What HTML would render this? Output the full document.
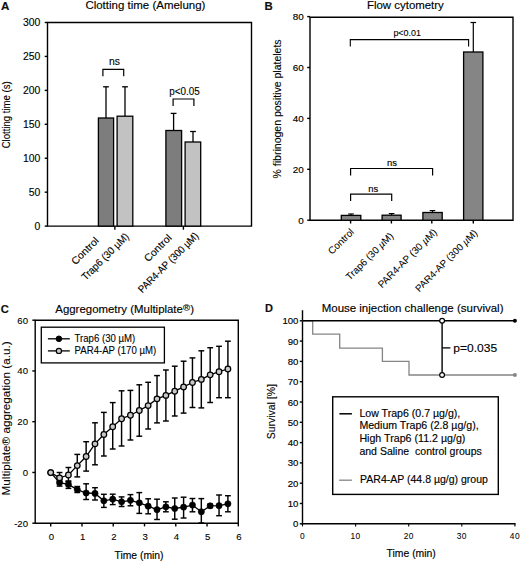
<!DOCTYPE html>
<html><head><meta charset="utf-8"><title>figure</title><style>
html,body{margin:0;padding:0;background:#fff;overflow:hidden;}
svg{display:block;}
text{font-family:"Liberation Sans",sans-serif;stroke:#000;stroke-width:0.15px;}
</style></head><body>
<svg width="520" height="562" viewBox="0 0 520 562">
<rect x="0" y="0" width="520" height="562" fill="#fff"/>
<text x="0.90" y="9.70" font-size="11.6" font-weight="bold" fill="#111">A</text>
<text x="85.40" y="9.20" font-size="11.7" textLength="120.00" lengthAdjust="spacingAndGlyphs" fill="#000">Clotting time (Amelung)</text>
<polygon points="47.5,22.5 47.5,226.1 251.5,226.1 251.5,22.5" stroke="#000" stroke-width="1.4" fill="none"/>
<line x1="44.70" y1="226.10" x2="47.50" y2="226.10" stroke="#000" stroke-width="1.4"/>
<text x="40.40" y="229.90" font-size="10.4" text-anchor="end" fill="#000" style="stroke-width:0.12px">0</text>
<line x1="44.70" y1="192.17" x2="47.50" y2="192.17" stroke="#000" stroke-width="1.4"/>
<text x="40.40" y="195.97" font-size="10.4" text-anchor="end" fill="#000" style="stroke-width:0.12px">50</text>
<line x1="44.70" y1="158.23" x2="47.50" y2="158.23" stroke="#000" stroke-width="1.4"/>
<text x="40.40" y="162.03" font-size="10.4" text-anchor="end" fill="#000" style="stroke-width:0.12px">100</text>
<line x1="44.70" y1="124.30" x2="47.50" y2="124.30" stroke="#000" stroke-width="1.4"/>
<text x="40.40" y="128.10" font-size="10.4" text-anchor="end" fill="#000" style="stroke-width:0.12px">150</text>
<line x1="44.70" y1="90.37" x2="47.50" y2="90.37" stroke="#000" stroke-width="1.4"/>
<text x="40.40" y="94.17" font-size="10.4" text-anchor="end" fill="#000" style="stroke-width:0.12px">200</text>
<line x1="44.70" y1="56.43" x2="47.50" y2="56.43" stroke="#000" stroke-width="1.4"/>
<text x="40.40" y="60.23" font-size="10.4" text-anchor="end" fill="#000" style="stroke-width:0.12px">250</text>
<line x1="44.70" y1="22.50" x2="47.50" y2="22.50" stroke="#000" stroke-width="1.4"/>
<text x="40.40" y="26.30" font-size="10.4" text-anchor="end" fill="#000" style="stroke-width:0.12px">300</text>
<line x1="114.90" y1="226.10" x2="114.90" y2="229.70" stroke="#000" stroke-width="1.4"/>
<line x1="183.40" y1="226.10" x2="183.40" y2="229.70" stroke="#000" stroke-width="1.4"/>
<line x1="106.00" y1="118.00" x2="106.00" y2="86.80" stroke="#000" stroke-width="1.3"/>
<line x1="103.10" y1="86.80" x2="108.90" y2="86.80" stroke="#000" stroke-width="1.3"/>
<rect x="98.40" y="118.00" width="15.20" height="108.10" fill="#7d7d7d" stroke="#000" stroke-width="1.3"/>
<line x1="125.00" y1="116.20" x2="125.00" y2="86.80" stroke="#000" stroke-width="1.3"/>
<line x1="122.10" y1="86.80" x2="127.90" y2="86.80" stroke="#000" stroke-width="1.3"/>
<rect x="117.10" y="116.20" width="15.70" height="109.90" fill="#c2c2c2" stroke="#000" stroke-width="1.3"/>
<line x1="173.60" y1="130.50" x2="173.60" y2="113.40" stroke="#000" stroke-width="1.3"/>
<line x1="170.70" y1="113.40" x2="176.50" y2="113.40" stroke="#000" stroke-width="1.3"/>
<rect x="165.90" y="130.50" width="15.70" height="95.60" fill="#7d7d7d" stroke="#000" stroke-width="1.3"/>
<line x1="193.00" y1="142.00" x2="193.00" y2="131.50" stroke="#000" stroke-width="1.3"/>
<line x1="190.10" y1="131.50" x2="195.90" y2="131.50" stroke="#000" stroke-width="1.3"/>
<rect x="185.10" y="142.00" width="15.60" height="84.10" fill="#c2c2c2" stroke="#000" stroke-width="1.3"/>
<polyline points="102.90,76.20 102.90,69.40 123.70,69.40 123.70,76.20" stroke="#000" stroke-width="1.2" fill="none" stroke-linejoin="miter"/>
<polyline points="173.10,106.00 173.10,99.00 193.90,99.00 193.90,106.00" stroke="#000" stroke-width="1.2" fill="none" stroke-linejoin="miter"/>
<text x="114.60" y="64.60" font-size="10.4" text-anchor="middle" fill="#000" style="stroke-width:0.12px">ns</text>
<text x="184.60" y="94.80" font-size="10.0" text-anchor="middle" textLength="30.50" lengthAdjust="spacingAndGlyphs" fill="#000" style="stroke-width:0.12px">p&lt;0.05</text>
<text x="10.30" y="114.80" font-size="11.2" text-anchor="middle" textLength="67.00" lengthAdjust="spacingAndGlyphs" transform="rotate(-90 10.30 114.80)" fill="#000" style="stroke-width:0.12px">Clotting time (s)</text>
<text x="99.50" y="241.40" font-size="10.4" text-anchor="end" textLength="34.00" lengthAdjust="spacingAndGlyphs" transform="rotate(-45 99.50 241.40)" fill="#000" style="stroke-width:0.12px">Control</text>
<text x="129.50" y="237.20" font-size="10.4" text-anchor="end" textLength="62.00" lengthAdjust="spacingAndGlyphs" transform="rotate(-45 129.50 237.20)" fill="#000" style="stroke-width:0.12px">Trap6 (30 µM)</text>
<text x="172.30" y="238.50" font-size="10.4" text-anchor="end" textLength="34.00" lengthAdjust="spacingAndGlyphs" transform="rotate(-45 172.30 238.50)" fill="#000" style="stroke-width:0.12px">Control</text>
<text x="199.20" y="236.60" font-size="10.4" text-anchor="end" textLength="80.50" lengthAdjust="spacingAndGlyphs" transform="rotate(-45 199.20 236.60)" fill="#000" style="stroke-width:0.12px">PAR4-AP (300 µM)</text>
<text x="264.40" y="9.80" font-size="11.4" font-weight="bold" fill="#111">B</text>
<text x="367.00" y="9.30" font-size="11.4" textLength="76.80" lengthAdjust="spacingAndGlyphs" fill="#000">Flow cytometry</text>
<polygon points="310.0,17.2 310.0,220.2 513.0,220.2 513.0,17.2" stroke="#000" stroke-width="1.4" fill="none"/>
<line x1="307.20" y1="220.20" x2="310.00" y2="220.20" stroke="#000" stroke-width="1.4"/>
<text x="303.70" y="223.60" font-size="9.9" text-anchor="end" fill="#000">0</text>
<line x1="307.20" y1="169.30" x2="310.00" y2="169.30" stroke="#000" stroke-width="1.4"/>
<text x="303.70" y="172.70" font-size="9.9" text-anchor="end" fill="#000">20</text>
<line x1="307.20" y1="118.40" x2="310.00" y2="118.40" stroke="#000" stroke-width="1.4"/>
<text x="303.70" y="121.80" font-size="9.9" text-anchor="end" fill="#000">40</text>
<line x1="307.20" y1="67.50" x2="310.00" y2="67.50" stroke="#000" stroke-width="1.4"/>
<text x="303.70" y="70.90" font-size="9.9" text-anchor="end" fill="#000">60</text>
<line x1="307.20" y1="16.60" x2="310.00" y2="16.60" stroke="#000" stroke-width="1.4"/>
<text x="303.70" y="20.00" font-size="9.9" text-anchor="end" fill="#000">80</text>
<line x1="351.00" y1="215.40" x2="351.00" y2="214.00" stroke="#000" stroke-width="1.2"/>
<line x1="348.20" y1="214.00" x2="353.80" y2="214.00" stroke="#000" stroke-width="1.2"/>
<rect x="341.30" y="215.40" width="19.50" height="4.80" fill="#858585" stroke="#000" stroke-width="1.3"/>
<line x1="350.60" y1="220.20" x2="350.60" y2="223.50" stroke="#000" stroke-width="1.4"/>
<line x1="391.60" y1="215.20" x2="391.60" y2="213.60" stroke="#000" stroke-width="1.2"/>
<line x1="388.80" y1="213.60" x2="394.40" y2="213.60" stroke="#000" stroke-width="1.2"/>
<rect x="382.10" y="215.20" width="19.00" height="5.00" fill="#858585" stroke="#000" stroke-width="1.3"/>
<line x1="391.40" y1="220.20" x2="391.40" y2="223.50" stroke="#000" stroke-width="1.4"/>
<line x1="432.50" y1="212.50" x2="432.50" y2="210.60" stroke="#000" stroke-width="1.2"/>
<line x1="429.70" y1="210.60" x2="435.30" y2="210.60" stroke="#000" stroke-width="1.2"/>
<rect x="422.90" y="212.50" width="19.30" height="7.70" fill="#858585" stroke="#000" stroke-width="1.3"/>
<line x1="431.80" y1="220.20" x2="431.80" y2="223.50" stroke="#000" stroke-width="1.4"/>
<line x1="473.30" y1="52.00" x2="473.30" y2="22.50" stroke="#000" stroke-width="1.2"/>
<line x1="470.50" y1="22.50" x2="476.10" y2="22.50" stroke="#000" stroke-width="1.2"/>
<rect x="463.60" y="52.00" width="19.30" height="168.20" fill="#858585" stroke="#000" stroke-width="1.3"/>
<line x1="473.30" y1="220.20" x2="473.30" y2="223.50" stroke="#000" stroke-width="1.4"/>
<polyline points="350.60,201.00 350.60,194.20 391.70,194.20 391.70,201.00" stroke="#000" stroke-width="1.2" fill="none" stroke-linejoin="miter"/>
<polyline points="350.60,175.60 350.60,168.50 432.60,168.50 432.60,175.60" stroke="#000" stroke-width="1.2" fill="none" stroke-linejoin="miter"/>
<polyline points="350.30,46.60 350.30,39.60 468.60,39.60 468.60,46.60" stroke="#000" stroke-width="1.1" fill="none" stroke-linejoin="miter"/>
<text x="373.20" y="192.00" font-size="9.4" text-anchor="middle" fill="#000">ns</text>
<text x="391.90" y="165.60" font-size="9.4" text-anchor="middle" fill="#000">ns</text>
<text x="407.20" y="36.40" font-size="9.0" text-anchor="middle" textLength="27.60" lengthAdjust="spacingAndGlyphs" fill="#000" style="stroke-width:0.1px">p&lt;0.01</text>
<text x="281.00" y="108.90" font-size="10.4" text-anchor="middle" textLength="139.00" lengthAdjust="spacingAndGlyphs" transform="rotate(-90 281.00 108.90)" fill="#000" style="stroke-width:0.1px">% fibrinogen positive platelets</text>
<text x="354.60" y="232.60" font-size="9.9" text-anchor="end" transform="rotate(-45 354.60 232.60)" fill="#000" style="stroke-width:0.05px">Control</text>
<text x="394.00" y="236.60" font-size="9.9" text-anchor="end" transform="rotate(-45 394.00 236.60)" fill="#000" style="stroke-width:0.05px">Trap6 (30 <tspan font-style="italic">µ</tspan>M)</text>
<text x="437.70" y="232.80" font-size="9.95" text-anchor="end" transform="rotate(-45 437.70 232.80)" fill="#000" style="stroke-width:0.05px">PAR4-AP (30 <tspan font-style="italic">µ</tspan>M)</text>
<text x="478.00" y="233.60" font-size="9.8" text-anchor="end" transform="rotate(-45 478.00 233.60)" fill="#000" style="stroke-width:0.05px">PAR4-AP (300 <tspan font-style="italic">µ</tspan>M)</text>
<text x="0.80" y="312.70" font-size="11.2" font-weight="bold" fill="#111">C</text>
<text x="55.30" y="312.80" font-size="11.4" textLength="127.60" lengthAdjust="spacingAndGlyphs" fill="#000">Aggregometry (Multiplate</text>
<text x="182.90" y="310.60" font-size="9.2" textLength="7.00" lengthAdjust="spacingAndGlyphs" fill="#000">®</text>
<text x="190.30" y="312.80" font-size="11.4" fill="#000">)</text>
<polygon points="35.2,320.2 35.2,523.2 238.3,523.2 238.3,320.2" stroke="#000" stroke-width="1.4" fill="none"/>
<line x1="32.30" y1="523.20" x2="35.20" y2="523.20" stroke="#000" stroke-width="1.4"/>
<text x="28.00" y="526.70" font-size="9.6" text-anchor="end" fill="#000" style="stroke-width:0.1px">-20</text>
<line x1="32.30" y1="472.45" x2="35.20" y2="472.45" stroke="#000" stroke-width="1.4"/>
<text x="28.00" y="475.95" font-size="9.6" text-anchor="end" fill="#000" style="stroke-width:0.1px">0</text>
<line x1="32.30" y1="421.70" x2="35.20" y2="421.70" stroke="#000" stroke-width="1.4"/>
<text x="28.00" y="425.20" font-size="9.6" text-anchor="end" fill="#000" style="stroke-width:0.1px">20</text>
<line x1="32.30" y1="370.95" x2="35.20" y2="370.95" stroke="#000" stroke-width="1.4"/>
<text x="28.00" y="374.45" font-size="9.6" text-anchor="end" fill="#000" style="stroke-width:0.1px">40</text>
<line x1="32.30" y1="320.20" x2="35.20" y2="320.20" stroke="#000" stroke-width="1.4"/>
<text x="28.00" y="323.70" font-size="9.6" text-anchor="end" fill="#000" style="stroke-width:0.1px">60</text>
<line x1="50.70" y1="523.20" x2="50.70" y2="526.40" stroke="#000" stroke-width="1.4"/>
<text x="51.30" y="539.80" font-size="9.6" text-anchor="middle" fill="#000" style="stroke-width:0.1px">0</text>
<line x1="81.97" y1="523.20" x2="81.97" y2="526.40" stroke="#000" stroke-width="1.4"/>
<text x="82.57" y="539.80" font-size="9.6" text-anchor="middle" fill="#000" style="stroke-width:0.1px">1</text>
<line x1="113.24" y1="523.20" x2="113.24" y2="526.40" stroke="#000" stroke-width="1.4"/>
<text x="113.84" y="539.80" font-size="9.6" text-anchor="middle" fill="#000" style="stroke-width:0.1px">2</text>
<line x1="144.51" y1="523.20" x2="144.51" y2="526.40" stroke="#000" stroke-width="1.4"/>
<text x="145.11" y="539.80" font-size="9.6" text-anchor="middle" fill="#000" style="stroke-width:0.1px">3</text>
<line x1="175.78" y1="523.20" x2="175.78" y2="526.40" stroke="#000" stroke-width="1.4"/>
<text x="176.38" y="539.80" font-size="9.6" text-anchor="middle" fill="#000" style="stroke-width:0.1px">4</text>
<line x1="207.05" y1="523.20" x2="207.05" y2="526.40" stroke="#000" stroke-width="1.4"/>
<text x="207.65" y="539.80" font-size="9.6" text-anchor="middle" fill="#000" style="stroke-width:0.1px">5</text>
<line x1="238.32" y1="523.20" x2="238.32" y2="526.40" stroke="#000" stroke-width="1.4"/>
<text x="238.92" y="539.80" font-size="9.6" text-anchor="middle" fill="#000" style="stroke-width:0.1px">6</text>
<text x="139.00" y="558.50" font-size="10.3" text-anchor="middle" textLength="49.00" lengthAdjust="spacingAndGlyphs" fill="#000">Time (min)</text>
<text x="10.00" y="418.40" font-size="10.4" text-anchor="middle" textLength="154.00" lengthAdjust="spacingAndGlyphs" transform="rotate(-90 10.00 418.40)" fill="#000" style="stroke-width:0.08px">Multiplate® aggregation (a.u.)</text>
<rect x="41.30" y="327.20" width="123.10" height="35.70" fill="none" stroke="#000" stroke-width="1.3"/>
<line x1="47.90" y1="338.80" x2="69.80" y2="338.80" stroke="#000" stroke-width="1.3"/>
<circle cx="58.90" cy="338.80" r="2.80" fill="#000" stroke="#000" stroke-width="1.0"/>
<line x1="47.90" y1="350.90" x2="69.80" y2="350.90" stroke="#000" stroke-width="1.3"/>
<circle cx="58.90" cy="350.90" r="2.60" fill="#c8c8c8" stroke="#000" stroke-width="1.2"/>
<text x="74.60" y="341.60" font-size="10.1" textLength="60.60" lengthAdjust="spacingAndGlyphs" fill="#000" style="stroke-width:0.1px">Trap6 (30 µM)</text>
<text x="74.60" y="353.70" font-size="10.1" textLength="81.60" lengthAdjust="spacingAndGlyphs" fill="#000" style="stroke-width:0.1px">PAR4-AP (170 µM)</text>
<line x1="59.56" y1="479.50" x2="59.56" y2="486.10" stroke="#000" stroke-width="1.45"/>
<line x1="56.66" y1="479.50" x2="62.46" y2="479.50" stroke="#000" stroke-width="1.45"/>
<line x1="56.66" y1="486.10" x2="62.46" y2="486.10" stroke="#000" stroke-width="1.45"/>
<line x1="68.42" y1="481.50" x2="68.42" y2="488.40" stroke="#000" stroke-width="1.45"/>
<line x1="65.52" y1="481.50" x2="71.32" y2="481.50" stroke="#000" stroke-width="1.45"/>
<line x1="65.52" y1="488.40" x2="71.32" y2="488.40" stroke="#000" stroke-width="1.45"/>
<line x1="77.28" y1="486.50" x2="77.28" y2="492.50" stroke="#000" stroke-width="1.45"/>
<line x1="74.38" y1="486.50" x2="80.18" y2="486.50" stroke="#000" stroke-width="1.45"/>
<line x1="74.38" y1="492.50" x2="80.18" y2="492.50" stroke="#000" stroke-width="1.45"/>
<line x1="86.14" y1="483.80" x2="86.14" y2="499.50" stroke="#000" stroke-width="1.45"/>
<line x1="83.24" y1="483.80" x2="89.04" y2="483.80" stroke="#000" stroke-width="1.45"/>
<line x1="83.24" y1="499.50" x2="89.04" y2="499.50" stroke="#000" stroke-width="1.45"/>
<line x1="95.00" y1="487.70" x2="95.00" y2="500.00" stroke="#000" stroke-width="1.45"/>
<line x1="92.10" y1="487.70" x2="97.90" y2="487.70" stroke="#000" stroke-width="1.45"/>
<line x1="92.10" y1="500.00" x2="97.90" y2="500.00" stroke="#000" stroke-width="1.45"/>
<line x1="103.86" y1="494.30" x2="103.86" y2="507.40" stroke="#000" stroke-width="1.45"/>
<line x1="100.96" y1="494.30" x2="106.76" y2="494.30" stroke="#000" stroke-width="1.45"/>
<line x1="100.96" y1="507.40" x2="106.76" y2="507.40" stroke="#000" stroke-width="1.45"/>
<line x1="112.72" y1="494.20" x2="112.72" y2="504.60" stroke="#000" stroke-width="1.45"/>
<line x1="109.82" y1="494.20" x2="115.62" y2="494.20" stroke="#000" stroke-width="1.45"/>
<line x1="109.82" y1="504.60" x2="115.62" y2="504.60" stroke="#000" stroke-width="1.45"/>
<line x1="121.58" y1="496.90" x2="121.58" y2="506.50" stroke="#000" stroke-width="1.45"/>
<line x1="118.68" y1="496.90" x2="124.48" y2="496.90" stroke="#000" stroke-width="1.45"/>
<line x1="118.68" y1="506.50" x2="124.48" y2="506.50" stroke="#000" stroke-width="1.45"/>
<line x1="130.44" y1="494.60" x2="130.44" y2="505.80" stroke="#000" stroke-width="1.45"/>
<line x1="127.54" y1="494.60" x2="133.34" y2="494.60" stroke="#000" stroke-width="1.45"/>
<line x1="127.54" y1="505.80" x2="133.34" y2="505.80" stroke="#000" stroke-width="1.45"/>
<line x1="139.30" y1="492.60" x2="139.30" y2="513.40" stroke="#000" stroke-width="1.45"/>
<line x1="136.40" y1="492.60" x2="142.20" y2="492.60" stroke="#000" stroke-width="1.45"/>
<line x1="136.40" y1="513.40" x2="142.20" y2="513.40" stroke="#000" stroke-width="1.45"/>
<line x1="148.16" y1="498.80" x2="148.16" y2="513.80" stroke="#000" stroke-width="1.45"/>
<line x1="145.26" y1="498.80" x2="151.06" y2="498.80" stroke="#000" stroke-width="1.45"/>
<line x1="145.26" y1="513.80" x2="151.06" y2="513.80" stroke="#000" stroke-width="1.45"/>
<line x1="157.02" y1="499.20" x2="157.02" y2="519.50" stroke="#000" stroke-width="1.45"/>
<line x1="154.12" y1="499.20" x2="159.92" y2="499.20" stroke="#000" stroke-width="1.45"/>
<line x1="154.12" y1="519.50" x2="159.92" y2="519.50" stroke="#000" stroke-width="1.45"/>
<line x1="165.88" y1="501.80" x2="165.88" y2="511.80" stroke="#000" stroke-width="1.45"/>
<line x1="162.98" y1="501.80" x2="168.78" y2="501.80" stroke="#000" stroke-width="1.45"/>
<line x1="162.98" y1="511.80" x2="168.78" y2="511.80" stroke="#000" stroke-width="1.45"/>
<line x1="174.74" y1="498.00" x2="174.74" y2="519.20" stroke="#000" stroke-width="1.45"/>
<line x1="171.84" y1="498.00" x2="177.64" y2="498.00" stroke="#000" stroke-width="1.45"/>
<line x1="171.84" y1="519.20" x2="177.64" y2="519.20" stroke="#000" stroke-width="1.45"/>
<line x1="183.60" y1="497.20" x2="183.60" y2="518.00" stroke="#000" stroke-width="1.45"/>
<line x1="180.70" y1="497.20" x2="186.50" y2="497.20" stroke="#000" stroke-width="1.45"/>
<line x1="180.70" y1="518.00" x2="186.50" y2="518.00" stroke="#000" stroke-width="1.45"/>
<line x1="192.46" y1="498.50" x2="192.46" y2="511.80" stroke="#000" stroke-width="1.45"/>
<line x1="189.56" y1="498.50" x2="195.36" y2="498.50" stroke="#000" stroke-width="1.45"/>
<line x1="189.56" y1="511.80" x2="195.36" y2="511.80" stroke="#000" stroke-width="1.45"/>
<line x1="201.32" y1="498.60" x2="201.32" y2="523.00" stroke="#000" stroke-width="1.45"/>
<line x1="198.42" y1="498.60" x2="204.22" y2="498.60" stroke="#000" stroke-width="1.45"/>
<line x1="198.42" y1="523.00" x2="204.22" y2="523.00" stroke="#000" stroke-width="1.45"/>
<line x1="210.18" y1="504.20" x2="210.18" y2="507.70" stroke="#000" stroke-width="1.45"/>
<line x1="207.28" y1="504.20" x2="213.08" y2="504.20" stroke="#000" stroke-width="1.45"/>
<line x1="207.28" y1="507.70" x2="213.08" y2="507.70" stroke="#000" stroke-width="1.45"/>
<line x1="219.04" y1="495.00" x2="219.04" y2="515.70" stroke="#000" stroke-width="1.45"/>
<line x1="216.14" y1="495.00" x2="221.94" y2="495.00" stroke="#000" stroke-width="1.45"/>
<line x1="216.14" y1="515.70" x2="221.94" y2="515.70" stroke="#000" stroke-width="1.45"/>
<line x1="227.90" y1="495.70" x2="227.90" y2="511.80" stroke="#000" stroke-width="1.45"/>
<line x1="225.00" y1="495.70" x2="230.80" y2="495.70" stroke="#000" stroke-width="1.45"/>
<line x1="225.00" y1="511.80" x2="230.80" y2="511.80" stroke="#000" stroke-width="1.45"/>
<polyline points="50.70,472.60 59.56,482.70 68.42,484.40 77.28,489.60 86.14,493.00 95.00,493.40 103.86,500.80 112.72,499.20 121.58,501.80 130.44,500.30 139.30,502.80 148.16,506.20 157.02,509.70 165.88,506.90 174.74,508.50 183.60,507.20 192.46,505.10 201.32,511.80 210.18,505.80 219.04,505.70 227.90,503.80" stroke="#000" stroke-width="1.3" fill="none" stroke-linejoin="miter"/>
<circle cx="50.70" cy="472.60" r="3.10" fill="#000" stroke="#000" stroke-width="0.6"/>
<circle cx="59.56" cy="482.70" r="3.10" fill="#000" stroke="#000" stroke-width="0.6"/>
<circle cx="68.42" cy="484.40" r="3.10" fill="#000" stroke="#000" stroke-width="0.6"/>
<circle cx="77.28" cy="489.60" r="3.10" fill="#000" stroke="#000" stroke-width="0.6"/>
<circle cx="86.14" cy="493.00" r="3.10" fill="#000" stroke="#000" stroke-width="0.6"/>
<circle cx="95.00" cy="493.40" r="3.10" fill="#000" stroke="#000" stroke-width="0.6"/>
<circle cx="103.86" cy="500.80" r="3.10" fill="#000" stroke="#000" stroke-width="0.6"/>
<circle cx="112.72" cy="499.20" r="3.10" fill="#000" stroke="#000" stroke-width="0.6"/>
<circle cx="121.58" cy="501.80" r="3.10" fill="#000" stroke="#000" stroke-width="0.6"/>
<circle cx="130.44" cy="500.30" r="3.10" fill="#000" stroke="#000" stroke-width="0.6"/>
<circle cx="139.30" cy="502.80" r="3.10" fill="#000" stroke="#000" stroke-width="0.6"/>
<circle cx="148.16" cy="506.20" r="3.10" fill="#000" stroke="#000" stroke-width="0.6"/>
<circle cx="157.02" cy="509.70" r="3.10" fill="#000" stroke="#000" stroke-width="0.6"/>
<circle cx="165.88" cy="506.90" r="3.10" fill="#000" stroke="#000" stroke-width="0.6"/>
<circle cx="174.74" cy="508.50" r="3.10" fill="#000" stroke="#000" stroke-width="0.6"/>
<circle cx="183.60" cy="507.20" r="3.10" fill="#000" stroke="#000" stroke-width="0.6"/>
<circle cx="192.46" cy="505.10" r="3.10" fill="#000" stroke="#000" stroke-width="0.6"/>
<circle cx="201.32" cy="511.80" r="3.10" fill="#000" stroke="#000" stroke-width="0.6"/>
<circle cx="210.18" cy="505.80" r="3.10" fill="#000" stroke="#000" stroke-width="0.6"/>
<circle cx="219.04" cy="505.70" r="3.10" fill="#000" stroke="#000" stroke-width="0.6"/>
<circle cx="227.90" cy="503.80" r="3.10" fill="#000" stroke="#000" stroke-width="0.6"/>
<line x1="59.56" y1="472.50" x2="59.56" y2="481.00" stroke="#000" stroke-width="1.45"/>
<line x1="56.66" y1="472.50" x2="62.46" y2="472.50" stroke="#000" stroke-width="1.45"/>
<line x1="56.66" y1="481.00" x2="62.46" y2="481.00" stroke="#000" stroke-width="1.45"/>
<line x1="68.42" y1="467.50" x2="68.42" y2="481.00" stroke="#000" stroke-width="1.45"/>
<line x1="65.52" y1="467.50" x2="71.32" y2="467.50" stroke="#000" stroke-width="1.45"/>
<line x1="65.52" y1="481.00" x2="71.32" y2="481.00" stroke="#000" stroke-width="1.45"/>
<line x1="77.28" y1="454.40" x2="77.28" y2="476.90" stroke="#000" stroke-width="1.45"/>
<line x1="74.38" y1="454.40" x2="80.18" y2="454.40" stroke="#000" stroke-width="1.45"/>
<line x1="74.38" y1="476.90" x2="80.18" y2="476.90" stroke="#000" stroke-width="1.45"/>
<line x1="86.14" y1="441.70" x2="86.14" y2="471.10" stroke="#000" stroke-width="1.45"/>
<line x1="83.24" y1="441.70" x2="89.04" y2="441.70" stroke="#000" stroke-width="1.45"/>
<line x1="83.24" y1="471.10" x2="89.04" y2="471.10" stroke="#000" stroke-width="1.45"/>
<line x1="95.00" y1="422.80" x2="95.00" y2="464.80" stroke="#000" stroke-width="1.45"/>
<line x1="92.10" y1="422.80" x2="97.90" y2="422.80" stroke="#000" stroke-width="1.45"/>
<line x1="92.10" y1="464.80" x2="97.90" y2="464.80" stroke="#000" stroke-width="1.45"/>
<line x1="103.86" y1="412.40" x2="103.86" y2="456.00" stroke="#000" stroke-width="1.45"/>
<line x1="100.96" y1="412.40" x2="106.76" y2="412.40" stroke="#000" stroke-width="1.45"/>
<line x1="100.96" y1="456.00" x2="106.76" y2="456.00" stroke="#000" stroke-width="1.45"/>
<line x1="112.72" y1="402.60" x2="112.72" y2="449.00" stroke="#000" stroke-width="1.45"/>
<line x1="109.82" y1="402.60" x2="115.62" y2="402.60" stroke="#000" stroke-width="1.45"/>
<line x1="109.82" y1="449.00" x2="115.62" y2="449.00" stroke="#000" stroke-width="1.45"/>
<line x1="121.58" y1="390.80" x2="121.58" y2="446.00" stroke="#000" stroke-width="1.45"/>
<line x1="118.68" y1="390.80" x2="124.48" y2="390.80" stroke="#000" stroke-width="1.45"/>
<line x1="118.68" y1="446.00" x2="124.48" y2="446.00" stroke="#000" stroke-width="1.45"/>
<line x1="130.44" y1="390.40" x2="130.44" y2="440.00" stroke="#000" stroke-width="1.45"/>
<line x1="127.54" y1="390.40" x2="133.34" y2="390.40" stroke="#000" stroke-width="1.45"/>
<line x1="127.54" y1="440.00" x2="133.34" y2="440.00" stroke="#000" stroke-width="1.45"/>
<line x1="139.30" y1="384.80" x2="139.30" y2="436.20" stroke="#000" stroke-width="1.45"/>
<line x1="136.40" y1="384.80" x2="142.20" y2="384.80" stroke="#000" stroke-width="1.45"/>
<line x1="136.40" y1="436.20" x2="142.20" y2="436.20" stroke="#000" stroke-width="1.45"/>
<line x1="148.16" y1="382.30" x2="148.16" y2="429.00" stroke="#000" stroke-width="1.45"/>
<line x1="145.26" y1="382.30" x2="151.06" y2="382.30" stroke="#000" stroke-width="1.45"/>
<line x1="145.26" y1="429.00" x2="151.06" y2="429.00" stroke="#000" stroke-width="1.45"/>
<line x1="157.02" y1="375.60" x2="157.02" y2="422.90" stroke="#000" stroke-width="1.45"/>
<line x1="154.12" y1="375.60" x2="159.92" y2="375.60" stroke="#000" stroke-width="1.45"/>
<line x1="154.12" y1="422.90" x2="159.92" y2="422.90" stroke="#000" stroke-width="1.45"/>
<line x1="165.88" y1="370.00" x2="165.88" y2="421.00" stroke="#000" stroke-width="1.45"/>
<line x1="162.98" y1="370.00" x2="168.78" y2="370.00" stroke="#000" stroke-width="1.45"/>
<line x1="162.98" y1="421.00" x2="168.78" y2="421.00" stroke="#000" stroke-width="1.45"/>
<line x1="174.74" y1="366.20" x2="174.74" y2="416.00" stroke="#000" stroke-width="1.45"/>
<line x1="171.84" y1="366.20" x2="177.64" y2="366.20" stroke="#000" stroke-width="1.45"/>
<line x1="171.84" y1="416.00" x2="177.64" y2="416.00" stroke="#000" stroke-width="1.45"/>
<line x1="183.60" y1="361.20" x2="183.60" y2="413.10" stroke="#000" stroke-width="1.45"/>
<line x1="180.70" y1="361.20" x2="186.50" y2="361.20" stroke="#000" stroke-width="1.45"/>
<line x1="180.70" y1="413.10" x2="186.50" y2="413.10" stroke="#000" stroke-width="1.45"/>
<line x1="192.46" y1="357.90" x2="192.46" y2="407.50" stroke="#000" stroke-width="1.45"/>
<line x1="189.56" y1="357.90" x2="195.36" y2="357.90" stroke="#000" stroke-width="1.45"/>
<line x1="189.56" y1="407.50" x2="195.36" y2="407.50" stroke="#000" stroke-width="1.45"/>
<line x1="201.32" y1="350.80" x2="201.32" y2="407.90" stroke="#000" stroke-width="1.45"/>
<line x1="198.42" y1="350.80" x2="204.22" y2="350.80" stroke="#000" stroke-width="1.45"/>
<line x1="198.42" y1="407.90" x2="204.22" y2="407.90" stroke="#000" stroke-width="1.45"/>
<line x1="210.18" y1="347.70" x2="210.18" y2="402.50" stroke="#000" stroke-width="1.45"/>
<line x1="207.28" y1="347.70" x2="213.08" y2="347.70" stroke="#000" stroke-width="1.45"/>
<line x1="207.28" y1="402.50" x2="213.08" y2="402.50" stroke="#000" stroke-width="1.45"/>
<line x1="219.04" y1="346.30" x2="219.04" y2="397.70" stroke="#000" stroke-width="1.45"/>
<line x1="216.14" y1="346.30" x2="221.94" y2="346.30" stroke="#000" stroke-width="1.45"/>
<line x1="216.14" y1="397.70" x2="221.94" y2="397.70" stroke="#000" stroke-width="1.45"/>
<line x1="227.90" y1="341.20" x2="227.90" y2="397.70" stroke="#000" stroke-width="1.45"/>
<line x1="225.00" y1="341.20" x2="230.80" y2="341.20" stroke="#000" stroke-width="1.45"/>
<line x1="225.00" y1="397.70" x2="230.80" y2="397.70" stroke="#000" stroke-width="1.45"/>
<polyline points="50.70,472.60 59.56,477.80 68.42,475.00 77.28,465.60 86.14,456.50 95.00,443.80 103.86,434.50 112.72,426.70 121.58,418.70 130.44,415.20 139.30,410.50 148.16,405.60 157.02,398.80 165.88,395.40 174.74,391.20 183.60,386.90 192.46,382.50 201.32,379.40 210.18,374.80 219.04,371.70 227.90,369.00" stroke="#000" stroke-width="1.3" fill="none" stroke-linejoin="miter"/>
<circle cx="50.70" cy="472.60" r="2.80" fill="#c8c8c8" stroke="#000" stroke-width="1.25"/>
<circle cx="59.56" cy="477.80" r="2.80" fill="#c8c8c8" stroke="#000" stroke-width="1.25"/>
<circle cx="68.42" cy="475.00" r="2.80" fill="#c8c8c8" stroke="#000" stroke-width="1.25"/>
<circle cx="77.28" cy="465.60" r="2.80" fill="#c8c8c8" stroke="#000" stroke-width="1.25"/>
<circle cx="86.14" cy="456.50" r="2.80" fill="#c8c8c8" stroke="#000" stroke-width="1.25"/>
<circle cx="95.00" cy="443.80" r="2.80" fill="#c8c8c8" stroke="#000" stroke-width="1.25"/>
<circle cx="103.86" cy="434.50" r="2.80" fill="#c8c8c8" stroke="#000" stroke-width="1.25"/>
<circle cx="112.72" cy="426.70" r="2.80" fill="#c8c8c8" stroke="#000" stroke-width="1.25"/>
<circle cx="121.58" cy="418.70" r="2.80" fill="#c8c8c8" stroke="#000" stroke-width="1.25"/>
<circle cx="130.44" cy="415.20" r="2.80" fill="#c8c8c8" stroke="#000" stroke-width="1.25"/>
<circle cx="139.30" cy="410.50" r="2.80" fill="#c8c8c8" stroke="#000" stroke-width="1.25"/>
<circle cx="148.16" cy="405.60" r="2.80" fill="#c8c8c8" stroke="#000" stroke-width="1.25"/>
<circle cx="157.02" cy="398.80" r="2.80" fill="#c8c8c8" stroke="#000" stroke-width="1.25"/>
<circle cx="165.88" cy="395.40" r="2.80" fill="#c8c8c8" stroke="#000" stroke-width="1.25"/>
<circle cx="174.74" cy="391.20" r="2.80" fill="#c8c8c8" stroke="#000" stroke-width="1.25"/>
<circle cx="183.60" cy="386.90" r="2.80" fill="#c8c8c8" stroke="#000" stroke-width="1.25"/>
<circle cx="192.46" cy="382.50" r="2.80" fill="#c8c8c8" stroke="#000" stroke-width="1.25"/>
<circle cx="201.32" cy="379.40" r="2.80" fill="#c8c8c8" stroke="#000" stroke-width="1.25"/>
<circle cx="210.18" cy="374.80" r="2.80" fill="#c8c8c8" stroke="#000" stroke-width="1.25"/>
<circle cx="219.04" cy="371.70" r="2.80" fill="#c8c8c8" stroke="#000" stroke-width="1.25"/>
<circle cx="227.90" cy="369.00" r="2.80" fill="#c8c8c8" stroke="#000" stroke-width="1.25"/>
<text x="265.10" y="312.30" font-size="11.0" font-weight="bold" fill="#111">D</text>
<text x="321.70" y="312.20" font-size="11.4" textLength="181.80" lengthAdjust="spacingAndGlyphs" fill="#000">Mouse injection challenge (survival)</text>
<line x1="302.50" y1="310.20" x2="302.50" y2="524.50" stroke="#000" stroke-width="1.4"/>
<line x1="301.80" y1="523.80" x2="515.60" y2="523.80" stroke="#000" stroke-width="1.4"/>
<line x1="299.80" y1="523.80" x2="302.50" y2="523.80" stroke="#000" stroke-width="1.4"/>
<text x="298.40" y="527.30" font-size="9.6" text-anchor="end" fill="#000" style="stroke-width:0.15px">0</text>
<line x1="299.80" y1="503.50" x2="302.50" y2="503.50" stroke="#000" stroke-width="1.4"/>
<text x="298.40" y="507.00" font-size="9.6" text-anchor="end" fill="#000" style="stroke-width:0.15px">10</text>
<line x1="299.80" y1="483.20" x2="302.50" y2="483.20" stroke="#000" stroke-width="1.4"/>
<text x="298.40" y="486.70" font-size="9.6" text-anchor="end" fill="#000" style="stroke-width:0.15px">20</text>
<line x1="299.80" y1="462.90" x2="302.50" y2="462.90" stroke="#000" stroke-width="1.4"/>
<text x="298.40" y="466.40" font-size="9.6" text-anchor="end" fill="#000" style="stroke-width:0.15px">30</text>
<line x1="299.80" y1="442.60" x2="302.50" y2="442.60" stroke="#000" stroke-width="1.4"/>
<text x="298.40" y="446.10" font-size="9.6" text-anchor="end" fill="#000" style="stroke-width:0.15px">40</text>
<line x1="299.80" y1="422.30" x2="302.50" y2="422.30" stroke="#000" stroke-width="1.4"/>
<text x="298.40" y="425.80" font-size="9.6" text-anchor="end" fill="#000" style="stroke-width:0.15px">50</text>
<line x1="299.80" y1="402.00" x2="302.50" y2="402.00" stroke="#000" stroke-width="1.4"/>
<text x="298.40" y="405.50" font-size="9.6" text-anchor="end" fill="#000" style="stroke-width:0.15px">60</text>
<line x1="299.80" y1="381.70" x2="302.50" y2="381.70" stroke="#000" stroke-width="1.4"/>
<text x="298.40" y="385.20" font-size="9.6" text-anchor="end" fill="#000" style="stroke-width:0.15px">70</text>
<line x1="299.80" y1="361.40" x2="302.50" y2="361.40" stroke="#000" stroke-width="1.4"/>
<text x="298.40" y="364.90" font-size="9.6" text-anchor="end" fill="#000" style="stroke-width:0.15px">80</text>
<line x1="299.80" y1="341.10" x2="302.50" y2="341.10" stroke="#000" stroke-width="1.4"/>
<text x="298.40" y="344.60" font-size="9.6" text-anchor="end" fill="#000" style="stroke-width:0.15px">90</text>
<line x1="299.80" y1="320.80" x2="302.50" y2="320.80" stroke="#000" stroke-width="1.4"/>
<text x="298.40" y="324.30" font-size="9.6" text-anchor="end" fill="#000" style="stroke-width:0.15px">100</text>
<line x1="302.50" y1="523.80" x2="302.50" y2="526.40" stroke="#000" stroke-width="1.1"/>
<text x="302.50" y="539.30" font-size="8.4" text-anchor="middle" fill="#000" letter-spacing="0.4" style="stroke-width:0.05px">0</text>
<line x1="355.60" y1="523.80" x2="355.60" y2="526.40" stroke="#000" stroke-width="1.1"/>
<text x="355.60" y="539.30" font-size="8.4" text-anchor="middle" fill="#000" letter-spacing="0.4" style="stroke-width:0.05px">10</text>
<line x1="408.70" y1="523.80" x2="408.70" y2="526.40" stroke="#000" stroke-width="1.1"/>
<text x="408.70" y="539.30" font-size="8.4" text-anchor="middle" fill="#000" letter-spacing="0.4" style="stroke-width:0.05px">20</text>
<line x1="461.80" y1="523.80" x2="461.80" y2="526.40" stroke="#000" stroke-width="1.1"/>
<text x="461.80" y="539.30" font-size="8.4" text-anchor="middle" fill="#000" letter-spacing="0.4" style="stroke-width:0.05px">30</text>
<line x1="514.90" y1="523.80" x2="514.90" y2="526.40" stroke="#000" stroke-width="1.1"/>
<text x="514.90" y="539.30" font-size="8.4" text-anchor="middle" fill="#000" letter-spacing="0.4" style="stroke-width:0.05px">40</text>
<text x="411.20" y="556.60" font-size="10.3" text-anchor="middle" textLength="49.20" lengthAdjust="spacingAndGlyphs" fill="#000">Time (min)</text>
<text x="274.60" y="411.70" font-size="10.6" text-anchor="middle" textLength="55.00" lengthAdjust="spacingAndGlyphs" transform="rotate(-90 274.60 411.70)" fill="#000" style="stroke-width:0.1px">Survival [%]</text>
<polyline points="302.50,320.80 312.70,320.80 312.70,334.20 339.70,334.20 339.70,348.10 382.40,348.10 382.40,361.30 409.00,361.30 409.00,375.00 514.90,375.00" stroke="#858585" stroke-width="1.3" fill="none" stroke-linejoin="miter"/>
<line x1="302.50" y1="320.80" x2="514.90" y2="320.80" stroke="#000" stroke-width="1.4"/>
<circle cx="514.90" cy="320.70" r="2.00" fill="#000" stroke="#000" stroke-width="0"/>
<circle cx="514.90" cy="375.00" r="2.00" fill="#858585" stroke="#000" stroke-width="0"/>
<line x1="442.10" y1="320.70" x2="442.10" y2="375.00" stroke="#000" stroke-width="1.4"/>
<line x1="442.10" y1="347.90" x2="450.40" y2="347.90" stroke="#000" stroke-width="1.3"/>
<circle cx="442.10" cy="320.70" r="2.40" fill="#fff" stroke="#000" stroke-width="1.2"/>
<circle cx="442.10" cy="375.00" r="2.40" fill="#fff" stroke="#000" stroke-width="1.2"/>
<text x="453.30" y="351.90" font-size="11.8" textLength="43.80" lengthAdjust="spacingAndGlyphs" fill="#000">p=0.035</text>
<rect x="332.70" y="396.80" width="165.60" height="97.60" fill="none" stroke="#000" stroke-width="1.4"/>
<line x1="339.40" y1="413.80" x2="351.90" y2="413.80" stroke="#000" stroke-width="1.5"/>
<line x1="339.10" y1="480.20" x2="351.90" y2="480.20" stroke="#858585" stroke-width="1.3"/>
<text x="359.40" y="416.80" font-size="10.5" textLength="100.90" lengthAdjust="spacingAndGlyphs" fill="#000">Low Trap6 (0.7 µg/g),</text>
<text x="359.40" y="429.43" font-size="10.5" textLength="119.30" lengthAdjust="spacingAndGlyphs" fill="#000">Medium Trap6 (2.8 µg/g),</text>
<text x="359.40" y="442.06" font-size="10.5" textLength="106.00" lengthAdjust="spacingAndGlyphs" fill="#000">High Trap6 (11.2 µg/g)</text>
<text x="359.40" y="454.69" font-size="10.5" textLength="122.40" lengthAdjust="spacingAndGlyphs" fill="#000">and Saline&#160; control groups</text>
<text x="360.10" y="483.20" font-size="10.5" textLength="127.80" lengthAdjust="spacingAndGlyphs" fill="#000">PAR4-AP (44.8 µg/g) group</text>
</svg>
</body></html>
